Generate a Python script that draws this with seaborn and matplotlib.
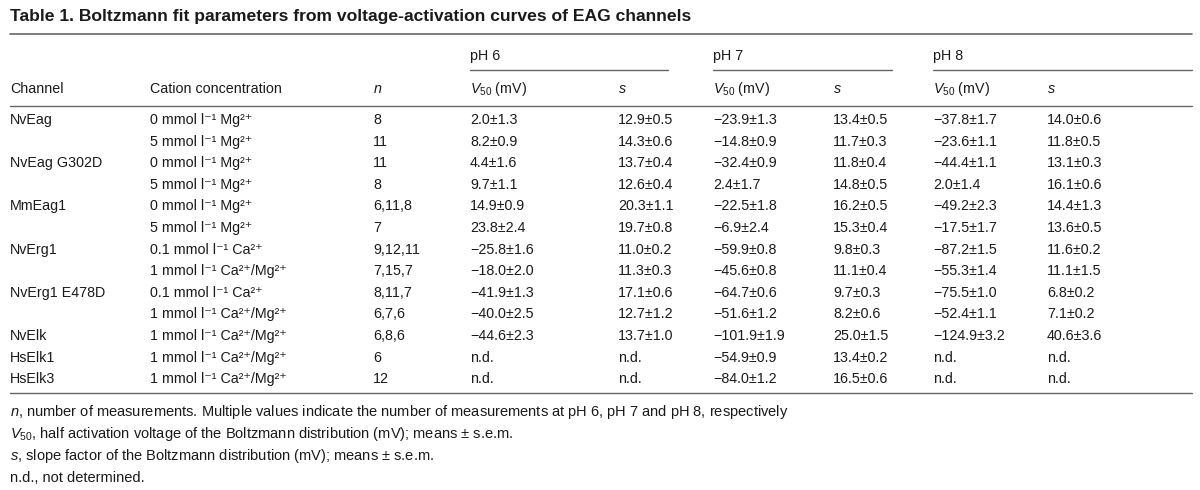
import matplotlib
matplotlib.use('Agg')
import matplotlib.pyplot as plt
import seaborn as sns

# Table values
channels = ['NvEag', '', 'NvEag G302D', '', 'MmEag1', '', 'NvErg1', '',
            'NvErg1 E478D', '', 'NvElk', 'HsElk1', 'HsElk3']
cations = ['0 mmol l⁻¹ Mg²⁺', '5 mmol l⁻¹ Mg²⁺',
           '0 mmol l⁻¹ Mg²⁺', '5 mmol l⁻¹ Mg²⁺',
           '0 mmol l⁻¹ Mg²⁺', '5 mmol l⁻¹ Mg²⁺',
           '0.1 mmol l⁻¹ Ca²⁺', '1 mmol l⁻¹ Ca²⁺/Mg²⁺',
           '0.1 mmol l⁻¹ Ca²⁺', '1 mmol l⁻¹ Ca²⁺/Mg²⁺',
           '1 mmol l⁻¹ Ca²⁺/Mg²⁺', '1 mmol l⁻¹ Ca²⁺/Mg²⁺',
           '1 mmol l⁻¹ Ca²⁺/Mg²⁺']
n_meas = ['8', '11', '11', '8', '6,11,8', '7', '9,12,11', '7,15,7',
          '8,11,7', '6,7,6', '6,8,6', '6', '12']

# (mean, s.e.m.), None = not determined
v50_ph6 = [(2.0, 1.3), (8.2, 0.9), (4.4, 1.6), (9.7, 1.1), (14.9, 0.9), (23.8, 2.4),
           (-25.8, 1.6), (-18.0, 2.0), (-41.9, 1.3), (-40.0, 2.5), (-44.6, 2.3), None, None]
s_ph6 = [(12.9, 0.5), (14.3, 0.6), (13.7, 0.4), (12.6, 0.4), (20.3, 1.1), (19.7, 0.8),
         (11.0, 0.2), (11.3, 0.3), (17.1, 0.6), (12.7, 1.2), (13.7, 1.0), None, None]
v50_ph7 = [(-23.9, 1.3), (-14.8, 0.9), (-32.4, 0.9), (2.4, 1.7), (-22.5, 1.8), (-6.9, 2.4),
           (-59.9, 0.8), (-45.6, 0.8), (-64.7, 0.6), (-51.6, 1.2), (-101.9, 1.9),
           (-54.9, 0.9), (-84.0, 1.2)]
s_ph7 = [(13.4, 0.5), (11.7, 0.3), (11.8, 0.4), (14.8, 0.5), (16.2, 0.5), (15.3, 0.4),
         (9.8, 0.3), (11.1, 0.4), (9.7, 0.3), (8.2, 0.6), (25.0, 1.5), (13.4, 0.2), (16.5, 0.6)]
v50_ph8 = [(-37.8, 1.7), (-23.6, 1.1), (-44.4, 1.1), (2.0, 1.4), (-49.2, 2.3), (-17.5, 1.7),
           (-87.2, 1.5), (-55.3, 1.4), (-75.5, 1.0), (-52.4, 1.1), (-124.9, 3.2), None, None]
s_ph8 = [(14.0, 0.6), (11.8, 0.5), (13.1, 0.3), (16.1, 0.6), (14.4, 1.3), (13.6, 0.5),
         (11.6, 0.2), (11.1, 1.5), (6.8, 0.2), (7.1, 0.2), (40.6, 3.6), None, None]

ph_labels = ['pH 6', 'pH 7', 'pH 8']
headers = ['Channel', 'Cation concentration', '$n$',
           '$V_{50}$ (mV)', '$s$', '$V_{50}$ (mV)', '$s$', '$V_{50}$ (mV)', '$s$']
title = 'Table 1. Boltzmann fit parameters from voltage-activation curves of EAG channels'
notes = ['$n$, number of measurements. Multiple values indicate the number of measurements at pH 6, pH 7 and pH 8, respectively',
         '$V_{50}$, half activation voltage of the Boltzmann distribution (mV); means ± s.e.m.',
         '$s$, slope factor of the Boltzmann distribution (mV); means ± s.e.m.',
         'n.d., not determined.']


def fmt(v):
    if v is None:
        return 'n.d.'
    return f'{v[0]:.1f}±{v[1]:.1f}'.replace('-', '\u2212')


sns.set_theme(style='white')
plt.rcParams['font.family'] = ['Liberation Sans', 'DejaVu Sans']
plt.rcParams['mathtext.fontset'] = 'custom'
plt.rcParams['mathtext.rm'] = 'Liberation Sans'
plt.rcParams['mathtext.it'] = 'Liberation Sans:italic'
plt.rcParams['mathtext.bf'] = 'Liberation Sans:bold'

txt = '#1a1a1a'
rule = '#666666'
fs = 10.3

fig = plt.figure(figsize=(12, 4.9), dpi=100)
ax = fig.add_axes([0, 0, 1, 1])
ax.set_xlim(0, 1200)
ax.set_ylim(490, 0)
ax.axis('off')

col_x = [10, 150, 373, 470, 618, 713, 833, 933, 1047]

ax.text(10, 21, title, fontsize=12.6, fontweight='bold', color=txt, va='baseline')
ax.plot([10, 1192], [34, 34], color=rule, lw=1.2)

# pH group headers with their spanning rules
for lab, x0, x1 in zip(ph_labels, [470, 713, 933], [668, 892, 1192]):
    ax.text(x0, 60, lab, fontsize=fs, color=txt, va='baseline')
    ax.plot([x0, x1], [70, 70], color=rule, lw=1.0)

for x, h in zip(col_x, headers):
    ax.text(x, 93, h, fontsize=fs, color=txt, va='baseline')
ax.plot([10, 1192], [106, 106], color=rule, lw=1.0)

columns = [channels, cations, n_meas,
           [fmt(v) for v in v50_ph6], [fmt(v) for v in s_ph6],
           [fmt(v) for v in v50_ph7], [fmt(v) for v in s_ph7],
           [fmt(v) for v in v50_ph8], [fmt(v) for v in s_ph8]]
row_h = 21.6
for x, col in zip(col_x, columns):
    for i, val in enumerate(col):
        ax.text(x, 124 + i * row_h, val, fontsize=fs, color=txt, va='baseline')

ax.plot([10, 1192], [393, 393], color=rule, lw=1.0)

for i, note in enumerate(notes):
    ax.text(10, 416 + i * 22, note, fontsize=10.5, color=txt, va='baseline')

fig.savefig('out.png', dpi=100)
